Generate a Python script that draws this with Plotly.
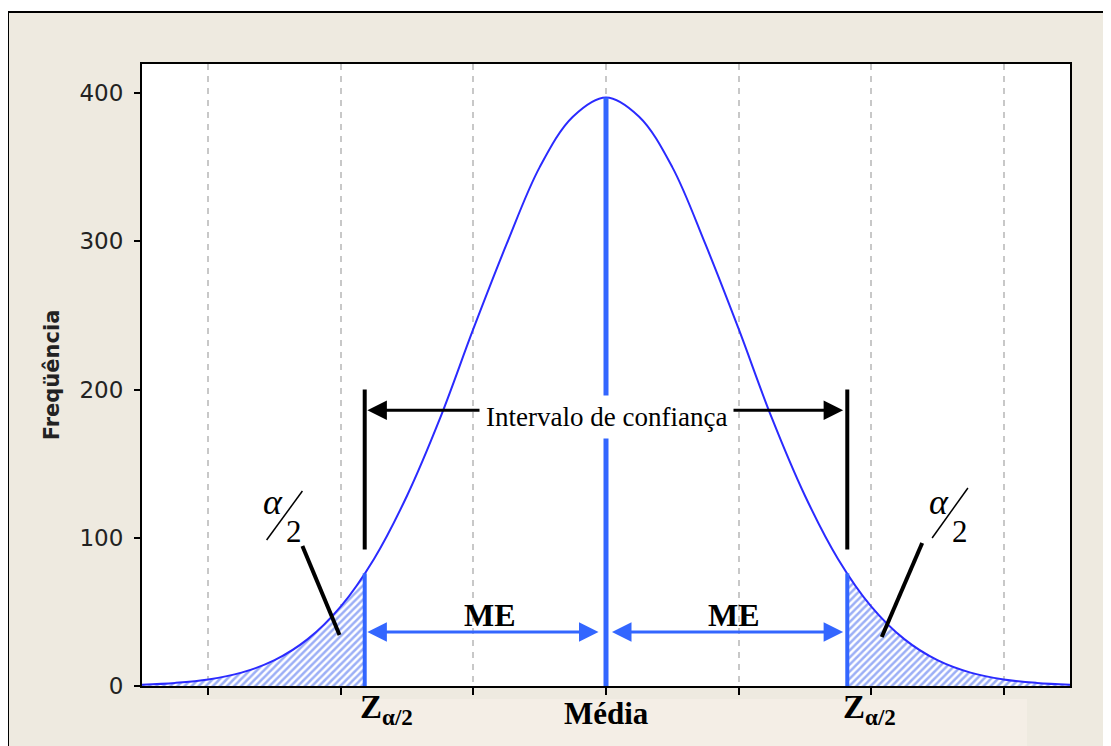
import plotly.graph_objects as go

# ---- data ----
x_curve = [-3.5, -3.25, -3.0, -2.75, -2.5, -2.25, -2.0, -1.75, -1.5, -1.25, -1.0, -0.75, -0.5, -0.25,
           0.0, 0.25, 0.5, 0.75, 1.0, 1.25, 1.5, 1.75, 2.0, 2.25, 2.5, 2.75, 3.0, 3.25, 3.5]
y_curve = [0.9, 2.1, 4.4, 9.0, 17.4, 31.6, 53.7, 85.7, 128.5, 181, 241, 298, 350, 384,
           397, 384, 350, 298, 241, 181, 128.5, 85.7, 53.7, 31.6, 17.4, 9.0, 4.4, 2.1, 0.9]
z_crit = 1.82          # position of Z alpha/2 (in sigma units)
z_crit_height = 76     # curve height at Z alpha/2
peak = 397             # curve height at the mean
y_ticks = [0, 100, 200, 300, 400]
x_ticks = [-3, -2, -1, 0, 1, 2, 3]
ci_label = "Intervalo de confiança"
me_label = "ME"
mean_label = "Média"
y_title = "Freqüência"

# ---- derived tail regions ----
left_x = [x for x in x_curve if x <= -z_crit] + [-z_crit]
left_y = [y for x, y in zip(x_curve, y_curve) if x <= -z_crit] + [z_crit_height]
right_x = [z_crit] + [x for x in x_curve if x >= z_crit]
right_y = [z_crit_height] + [y for x, y in zip(x_curve, y_curve) if x >= z_crit]

W, H = 1111, 746
OFF = 8  # page offset of the figure in the screenshot
L, R, T, B = 142, 1070, 64, 686   # plot area in screen pixels
def px(p):  # screen pixel x -> paper x
    return (p - L) / (R - L)
def py(p):  # screen pixel y -> paper y
    return (B - p) / (B - T)

BLUE = "#3366ff"
CURVE = "#2a2aff"
BEIGE = "#eeeae0"

fig = go.Figure()
hatch = dict(shape="/", fgcolor="#3a60ee", bgcolor="white", size=5, solidity=0.5)
for tx, ty in [(left_x, left_y), (right_x, right_y)]:
    fig.add_trace(go.Scatter(x=tx, y=ty, mode="lines", line=dict(width=0, shape="spline", color=CURVE),
                             fill="tozeroy", fillpattern=hatch, fillcolor="rgba(0,0,0,0)",
                             hoverinfo="skip", showlegend=False))
fig.add_trace(go.Scatter(x=x_curve, y=y_curve, mode="lines",
                         line=dict(color=CURVE, width=2, shape="spline"), showlegend=False))

shapes = []
# outer frame, lower light box, white plot area
shapes.append(dict(type="rect", xref="paper", yref="paper", x0=px(8), x1=px(1130), y0=py(770), y1=py(12),
                   fillcolor=BEIGE, line=dict(color="black", width=2), layer="below"))
shapes.append(dict(type="rect", xref="paper", yref="paper", x0=px(170), x1=px(1027), y0=py(770), y1=py(699),
                   fillcolor="#f4eee6", line=dict(width=0), layer="below"))
shapes.append(dict(type="rect", xref="paper", yref="paper", x0=0, x1=1, y0=0, y1=1,
                   fillcolor="white", line=dict(width=0), layer="below"))
# thick blue lines
shapes.append(dict(type="line", x0=0, x1=0, y0=0, y1=peak, line=dict(color=BLUE, width=5)))
for s in (-1, 1):
    shapes.append(dict(type="line", x0=s * z_crit, x1=s * z_crit, y0=0, y1=z_crit_height,
                       line=dict(color=BLUE, width=4)))
    # black vertical markers of confidence interval
    shapes.append(dict(type="line", x0=s * z_crit, x1=s * z_crit, y0=92, y1=200,
                       line=dict(color="black", width=4)))
# alpha/2 slashes and pointers
shapes.append(dict(type="line", x0=-2.56, x1=-2.29, y0=98.5, y1=131.5, line=dict(color="black", width=1.5)))
shapes.append(dict(type="line", x0=2.46, x1=2.73, y0=99.8, y1=133.6, line=dict(color="black", width=1.5)))
shapes.append(dict(type="line", x0=-2.29, x1=-2.01, y0=94.4, y1=34.4, line=dict(color="black", width=4)))
shapes.append(dict(type="line", x0=2.385, x1=2.08, y0=96.5, y1=33, line=dict(color="black", width=4)))

ann = []
serif = "Liberation Serif, Times New Roman, serif"
# confidence interval arrow
ann.append(dict(x=-1.80, y=186, ax=1.80, ay=186, xref="x", yref="y", axref="x", ayref="y", text="",
                showarrow=True, arrowhead=2, startarrowhead=2, arrowside="end+start", arrowsize=1.3,
                startarrowsize=1.3, arrowwidth=3, arrowcolor="black"))
ann.append(dict(x=0, y=181.5, xref="x", yref="y", text=ci_label, showarrow=False, bgcolor="white",
                font=dict(family=serif, size=27, color="black"), borderpad=6))
# ME arrows
for a0, a1 in [(-1.80, -0.045), (0.045, 1.80)]:
    ann.append(dict(x=a0, y=36.4, ax=a1, ay=36.4, xref="x", yref="y", axref="x", ayref="y", text="",
                    showarrow=True, arrowhead=2, startarrowhead=2, arrowside="end+start", arrowsize=1.3,
                    startarrowsize=1.3, arrowwidth=3, arrowcolor=BLUE))
ann.append(dict(x=-0.875, y=48, xref="x", yref="y", text="<b>" + me_label + "</b>", showarrow=False,
                font=dict(family=serif, size=32, color="black")))
ann.append(dict(x=0.966, y=48, xref="x", yref="y", text="<b>" + me_label + "</b>", showarrow=False,
                font=dict(family=serif, size=32, color="black")))
# alpha / 2
for ax_, tx_ in [(-2.51, -2.35), (2.51, 2.67)]:
    ann.append(dict(x=ax_, y=124, xref="x", yref="y", text="<i>α</i>", showarrow=False,
                    font=dict(family=serif, size=36, color="black")))
    ann.append(dict(x=tx_, y=104, xref="x", yref="y", text="2", showarrow=False,
                    font=dict(family=serif, size=31, color="black")))
# bottom labels
for xl in (-z_crit, z_crit):
    ann.append(dict(x=xl - 0.05, y=py(687), xref="x", yref="paper", xanchor="left", yanchor="top",
                    text="<b>Z<sub>α/2</sub></b>", showarrow=False,
                    font=dict(family=serif, size=33, color="black")))
ann.append(dict(x=0, y=py(694), xref="x", yref="paper", xanchor="center", yanchor="top",
                text="<b>" + mean_label + "</b>", showarrow=False,
                font=dict(family=serif, size=31, color="black")))

fig.update_layout(
    width=W, height=H, autosize=False,
    margin=dict(l=L - OFF, r=W - (R - OFF), t=T - OFF, b=H - (B - OFF)),
    paper_bgcolor="white", plot_bgcolor="white",
    shapes=shapes, annotations=ann, showlegend=False,
    font=dict(family="DejaVu Sans", size=23, color="#222"),
)
fig.update_xaxes(range=[-3.5, 3.5], tickvals=x_ticks, showticklabels=False, ticks="outside", ticklen=7,
                 tickcolor="black", tickwidth=1.5, showgrid=True, gridcolor="#c8c8c8", gridwidth=2,
                 griddash="6px,6px", zeroline=False, showline=True, linecolor="black", linewidth=2, mirror=True)
fig.update_yaxes(range=[0, (B - T) / 1.4825], tickvals=y_ticks, ticks="outside", ticklen=6, tickcolor="black",
                 tickwidth=1.5, showgrid=False, zeroline=False, showline=True, linecolor="black", linewidth=2,
                 mirror=True, ticklabelstandoff=6,
                 title=dict(text="<b>" + y_title + "</b>", standoff=14,
                            font=dict(family="DejaVu Sans", size=21, color="#222")))

fig.write_html("out.html")
